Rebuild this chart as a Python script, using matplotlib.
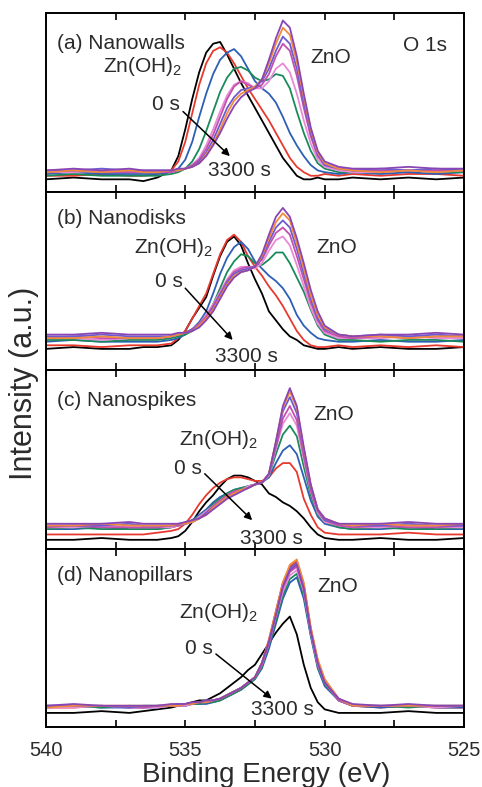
import numpy as np
import matplotlib
matplotlib.use('Agg')
from matplotlib import pyplot as plt
from matplotlib.ticker import MultipleLocator

plt.rcParams['font.family'] = ['Liberation Sans', 'DejaVu Sans']
plt.rcParams['mathtext.fontset'] = 'custom'
plt.rcParams['mathtext.rm'] = 'Liberation Sans'
plt.rcParams['mathtext.default'] = 'regular'

# binding energy grid (eV) shared by all spectra
energy = [540, 539, 538, 537, 536.5, 536, 535.5, 535.25, 535, 534.75, 534.5, 534.25,
          534, 533.75, 533.5, 533.25, 533, 532.75, 532.5, 532.25, 532, 531.75, 531.5,
          531.25, 531, 530.75, 530.5, 530.25, 530, 529.5, 529, 528, 527, 526, 525]

# sputter steps, 0 s -> 3300 s
colors = ['black', '#e8392e', '#2d5fb5', '#1b8a5a', '#e88ad8', '#c34fae',
          '#6d5bd0', '#f08a3c', '#8a45b5']

# (a) nanowalls
black_a = [7, 8, 7, 7, 6, 8, 12, 20, 35, 52, 67, 78, 83, 84, 77, 69, 61, 54, 47, 40, 33, 26, 19, 14, 9, 7, 7, 8, 7, 7, 8, 7, 8, 7, 8]
red_a = [9, 9, 10, 9, 9, 10, 12, 17, 28, 44, 60, 72, 79, 81, 78, 72, 65, 58, 52, 46, 40, 33, 26, 19, 14, 11, 9, 9, 10, 9, 10, 9, 10, 10, 9]
blue_a = [10, 11, 10, 10, 10, 10, 11, 13, 18, 28, 42, 55, 66, 74, 78, 80, 76, 69, 62, 58, 55, 50, 42, 33, 26, 20, 15, 12, 11, 10, 11, 10, 11, 10, 11]
green_a = [9, 10, 9, 9, 9, 9, 10, 11, 13, 17, 24, 34, 45, 56, 64, 69, 70, 68, 64, 62, 63, 66, 65, 58, 45, 33, 23, 16, 13, 11, 11, 11, 12, 11, 11]
pink_a = [11, 11, 12, 11, 11, 11, 11, 12, 13, 15, 19, 26, 35, 45, 54, 60, 62, 61, 58, 58, 62, 69, 72, 67, 55, 40, 27, 18, 14, 12, 11, 11, 12, 11, 12]
magenta_a = [11, 12, 11, 11, 11, 11, 11, 12, 13, 15, 18, 24, 32, 42, 52, 59, 62, 60, 58, 60, 66, 76, 83, 79, 65, 47, 31, 20, 15, 13, 12, 12, 12, 12, 12]
violet_a = [12, 12, 13, 12, 12, 12, 12, 12, 13, 14, 17, 22, 29, 38, 47, 53, 57, 58, 59, 62, 69, 79, 87, 83, 69, 50, 33, 21, 15, 13, 12, 13, 12, 13, 12]
orange_a = [11, 12, 11, 12, 11, 11, 12, 12, 13, 14, 16, 21, 27, 35, 44, 51, 55, 57, 59, 63, 72, 83, 92, 88, 73, 53, 35, 22, 16, 13, 12, 11, 12, 11, 12]
purple_a = [12, 13, 12, 13, 12, 12, 12, 13, 13, 14, 16, 20, 26, 33, 41, 48, 53, 56, 58, 63, 74, 86, 96, 92, 76, 55, 36, 23, 17, 14, 13, 13, 14, 13, 13]

# (b) nanodisks
black_b = [12, 13, 12, 12, 13, 13, 14, 17, 22, 29, 35, 41, 53, 64, 72, 75, 70, 60, 51, 43, 33, 28, 23, 19, 17, 14, 13, 12, 12, 13, 12, 13, 12, 12, 13]
red_b = [14, 14, 13, 14, 14, 14, 15, 18, 22, 29, 36, 43, 54, 65, 73, 76, 72, 64, 58, 53, 47, 42, 36, 29, 22, 17, 14, 13, 13, 14, 13, 14, 13, 14, 13]
blue_b = [16, 17, 16, 16, 16, 16, 17, 18, 20, 23, 27, 33, 43, 54, 63, 69, 72, 68, 61, 57, 53, 50, 46, 40, 31, 25, 21, 18, 17, 16, 16, 17, 16, 16, 17]
green_b = [17, 17, 16, 17, 17, 17, 18, 19, 20, 22, 25, 30, 37, 46, 55, 61, 65, 64, 60, 59, 62, 66, 66, 60, 52, 44, 34, 25, 20, 17, 17, 16, 17, 17, 16]
pink_b = [18, 18, 17, 18, 18, 18, 19, 20, 21, 23, 26, 31, 37, 44, 51, 56, 58, 58, 57, 60, 67, 73, 75, 70, 59, 47, 35, 26, 21, 18, 18, 18, 19, 18, 18]
magenta_b = [18, 19, 18, 18, 18, 18, 19, 20, 21, 23, 26, 30, 36, 43, 50, 55, 57, 58, 58, 62, 70, 77, 80, 76, 64, 51, 38, 28, 22, 19, 18, 19, 18, 19, 19]
violet_b = [19, 19, 20, 19, 19, 19, 19, 20, 21, 23, 25, 29, 35, 42, 49, 54, 56, 57, 58, 63, 72, 80, 84, 80, 68, 54, 40, 29, 23, 20, 19, 20, 19, 20, 19]
orange_b = [18, 18, 19, 18, 18, 18, 19, 20, 21, 22, 25, 29, 34, 41, 48, 53, 55, 56, 58, 64, 74, 83, 88, 84, 71, 57, 42, 31, 24, 20, 19, 19, 18, 19, 19]
purple_b = [20, 20, 21, 20, 20, 20, 20, 21, 21, 22, 24, 28, 33, 40, 47, 52, 55, 56, 58, 65, 76, 86, 91, 86, 74, 60, 45, 33, 25, 20, 19, 20, 20, 21, 20]

# (c) nanospikes
black_c = [5, 5, 6, 5, 5, 5, 6, 7, 10, 15, 21, 26, 30, 35, 39, 41, 41, 40, 38, 36, 31, 29, 26, 24, 21, 17, 12, 8, 6, 5, 5, 6, 5, 5, 6]
red_c = [8, 8, 8, 8, 8, 9, 10, 11, 14, 19, 25, 30, 34, 37, 39, 40, 40, 39, 38, 38, 40, 45, 48, 48, 43, 28, 19, 12, 9, 8, 8, 8, 9, 8, 8]
blue_c = [11, 11, 12, 11, 11, 11, 12, 13, 14, 16, 19, 22, 26, 29, 31, 33, 34, 35, 36, 37, 40, 48, 55, 58, 53, 40, 27, 18, 14, 12, 11, 11, 12, 11, 11]
green_c = [11, 12, 11, 11, 11, 11, 12, 13, 14, 16, 18, 21, 25, 28, 31, 33, 34, 35, 36, 37, 41, 53, 64, 69, 63, 46, 30, 19, 15, 12, 11, 12, 11, 11, 12]
pink_c = [12, 12, 13, 12, 12, 12, 12, 13, 14, 15, 18, 21, 24, 27, 30, 32, 33, 35, 36, 37, 41, 56, 70, 76, 69, 50, 32, 20, 15, 13, 12, 12, 13, 12, 12]
magenta_c = [12, 13, 12, 12, 12, 12, 13, 13, 14, 15, 17, 20, 24, 27, 30, 32, 33, 34, 36, 37, 42, 57, 73, 80, 72, 52, 33, 21, 16, 13, 12, 13, 12, 12, 13]
violet_c = [13, 13, 13, 14, 13, 13, 13, 14, 14, 15, 17, 20, 23, 26, 29, 31, 33, 34, 36, 37, 42, 59, 77, 85, 76, 55, 35, 22, 16, 14, 13, 13, 14, 13, 13]
orange_c = [13, 13, 14, 13, 13, 13, 13, 14, 14, 15, 17, 19, 23, 26, 29, 31, 33, 34, 36, 37, 42, 60, 79, 88, 79, 56, 36, 22, 17, 14, 13, 14, 13, 13, 14]
purple_c = [14, 14, 14, 15, 14, 14, 14, 14, 15, 16, 17, 19, 22, 25, 28, 30, 32, 34, 36, 37, 42, 60, 80, 90, 80, 57, 36, 22, 17, 14, 14, 14, 15, 14, 14]

# (d) nanopillars
black_d = [8, 8, 9, 8, 9, 10, 11, 12, 13, 14, 15, 15, 17, 19, 22, 25, 28, 32, 35, 41, 47, 53, 58, 62, 52, 35, 22, 14, 10, 8, 8, 8, 9, 8, 8]
red_d = [11, 11, 12, 11, 11, 12, 12, 12, 12, 13, 14, 14, 15, 16, 18, 20, 22, 25, 28, 36, 49, 65, 81, 90, 93, 80, 55, 37, 26, 15, 12, 11, 12, 11, 11]
blue_d = [11, 12, 11, 11, 11, 11, 12, 12, 12, 13, 13, 13, 14, 15, 17, 19, 21, 24, 27, 33, 44, 58, 72, 81, 84, 72, 51, 33, 23, 15, 12, 11, 12, 11, 11]
green_d = [12, 12, 11, 12, 12, 12, 12, 12, 13, 13, 13, 14, 14, 15, 17, 19, 21, 24, 27, 34, 46, 60, 74, 83, 86, 74, 52, 34, 24, 15, 12, 12, 11, 12, 12]
pink_d = [11, 11, 12, 11, 11, 11, 12, 12, 12, 13, 14, 14, 15, 16, 18, 20, 22, 25, 28, 35, 47, 62, 76, 85, 88, 76, 53, 35, 25, 15, 12, 12, 12, 11, 12]
magenta_d = [12, 12, 12, 12, 11, 12, 12, 12, 13, 13, 14, 14, 15, 16, 18, 20, 22, 25, 28, 35, 47, 63, 78, 87, 90, 77, 54, 36, 25, 15, 12, 12, 12, 12, 12]
violet_d = [12, 12, 12, 11, 12, 12, 12, 13, 13, 13, 14, 15, 15, 16, 18, 20, 22, 25, 28, 36, 48, 64, 80, 89, 92, 79, 55, 37, 26, 16, 12, 12, 12, 12, 12]
orange_d = [11, 12, 12, 12, 12, 12, 12, 12, 13, 13, 14, 14, 15, 16, 18, 20, 22, 25, 28, 36, 49, 65, 81, 91, 94, 81, 56, 38, 27, 16, 12, 12, 12, 12, 12]
purple_d = [12, 13, 12, 12, 12, 12, 13, 13, 13, 14, 14, 15, 15, 16, 18, 20, 22, 25, 28, 36, 48, 63, 79, 88, 91, 78, 54, 36, 25, 16, 13, 12, 13, 12, 12]

panels = [
    [black_a, red_a, blue_a, green_a, pink_a, magenta_a, violet_a, orange_a, purple_a],
    [black_b, red_b, blue_b, green_b, pink_b, magenta_b, violet_b, orange_b, purple_b],
    [black_c, red_c, blue_c, green_c, pink_c, magenta_c, violet_c, orange_c, purple_c],
    [black_d, red_d, blue_d, green_d, pink_d, magenta_d, violet_d, orange_d, purple_d],
]
titles = ['(a) Nanowalls', '(b) Nanodisks', '(c) Nanospikes', '(d) Nanopillars']

# label anchors per panel: (x, y) in data units
title_y = [83, 85, 83, 85]
zoh_pos = [(535.1, 70), (534.0, 69), (532.4, 61), (532.4, 64)]
zero_pos = [(535.2, 49), (535.1, 50), (534.4, 45), (534.0, 44)]
arrow_from = [(535.08, 45), (535.0, 46), (534.3, 42), (533.9, 41)]
arrow_to = [(533.4, 20), (533.3, 17), (532.6, 16), (531.9, 16)]
end_pos = [(533.07, 12), (532.8, 8), (531.9, 6), (531.5, 10)]
zno_pos = [(530.5, 75), (530.3, 69), (530.4, 75), (530.25, 79)]

text_color = '#2b2b2b'
fs = 15

fig, axes = plt.subplots(4, 1, figsize=(4.82, 7.87), dpi=100, sharex=True,
                         gridspec_kw=dict(hspace=0))
fig.subplots_adjust(left=0.095, right=0.963, top=0.983, bottom=0.076)

for i, ax in enumerate(axes):
    for spec, c in zip(panels[i], colors):
        ax.plot(energy, spec, color=c, lw=1.3)
    ax.set_xlim(540, 525)
    ax.set_ylim(0, 100)
    ax.set_yticks([])
    ax.xaxis.set_major_locator(MultipleLocator(5))
    ax.xaxis.set_minor_locator(MultipleLocator(2.5))
    ax.tick_params(axis='x', which='both', direction='in', top=True, bottom=True,
                   length=5, width=1.2, labelsize=14.5, labelcolor=text_color, pad=10)
    for s in ax.spines.values():
        s.set_linewidth(1.4)

    ax.text(539.6, title_y[i], titles[i], fontsize=fs, color=text_color,
            ha='left', va='center')
    ax.text(*zoh_pos[i], 'Zn(OH)$_2$', fontsize=fs, color=text_color,
            ha='right', va='center')
    ax.text(*zero_pos[i], '0 s', fontsize=fs, color=text_color,
            ha='right', va='center')
    ax.text(*end_pos[i], '3300 s', fontsize=fs, color=text_color,
            ha='center', va='center')
    ax.text(*zno_pos[i], 'ZnO', fontsize=fs, color=text_color,
            ha='left', va='center')
    ax.annotate('', xy=arrow_to[i], xytext=arrow_from[i],
                arrowprops=dict(arrowstyle='-|>', lw=1.1, color='black',
                                mutation_scale=11, shrinkA=0, shrinkB=0))

axes[0].text(525.6, 82, 'O 1s', fontsize=fs, color=text_color, ha='right', va='center')

fig.text(0.05, 0.513, 'Intensity (a.u.)', rotation=90, fontsize=22,
         color=text_color, ha='center', va='center')
fig.text(266 / 482, 1 - 775 / 787, 'Binding Energy (eV)', fontsize=20,
         color=text_color, ha='center', va='center')

fig.savefig('out.png', dpi=100)
